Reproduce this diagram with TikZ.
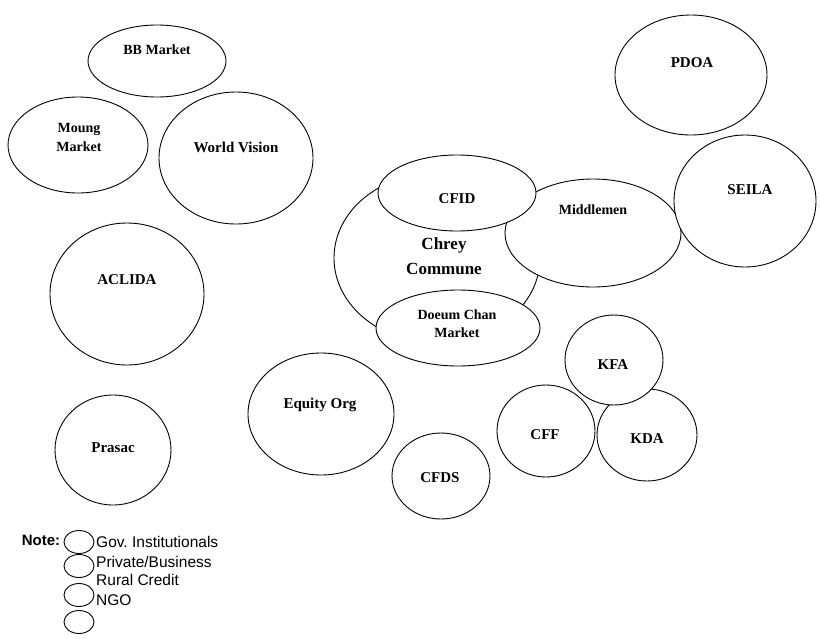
\documentclass[tikz,border=0pt]{standalone}
\usepackage{fontspec}
\setmainfont{Liberation Serif}
\setsansfont{Liberation Sans}
\usepackage{tikz}
\usetikzlibrary{shapes.geometric}

\tikzset{
  actor/.style={draw, ellipse, fill=white, line width=0.9pt, inner sep=0pt},
  actortext/.style={font=\bfseries\fontsize{15}{18}\selectfont, align=center, inner sep=0pt},
  notetext/.style={font=\sffamily\fontsize{15.5}{17}\selectfont, anchor=west, inner sep=0pt}
}

\begin{document}
\begin{tikzpicture}[x=1pt, y=-1pt]
        \useasboundingbox (0,0) rectangle (820,638);
        % Left column
        \node[actor, minimum width=138, minimum height=72] (bb) at (157,61) {};
        \node[actortext, font=\bfseries\fontsize{14}{17}\selectfont] (bb-t) at (157,50) {BB Market};
        \node[actor, minimum width=140, minimum height=96] (moung) at (78,145) {};
        \node[actortext, font=\bfseries\fontsize{14}{19}\selectfont] (moung-t) at (79,137) {Moung\\Market};
        \node[actor, minimum width=154, minimum height=132] (wv) at (236,158) {};
        \node[actortext] (wv-t) at (236,147) {World Vision};
        \node[actor, minimum width=154, minimum height=142] (aclida) at (127,294) {};
        \node[actortext] (aclida-t) at (127,280) {ACLIDA};
        \node[actor, minimum width=116, minimum height=110] (prasac) at (113,450) {};
        \node[actortext] (prasac-t) at (113,448) {Prasac};
        % Chrey Commune and what sits on it
        \node[actor, minimum width=206, minimum height=170] (chrey) at (437,258) {};
        \node[actortext, font=\bfseries\fontsize{17}{25}\selectfont] (chrey-t) at (444,256) {Chrey\\Commune};
        \node[actor, minimum width=176, minimum height=108] (middle) at (593,233) {};
        \node[actortext, font=\bfseries\fontsize{14}{17}\selectfont] (middle-t) at (593,210) {Middlemen};
        \node[actor, minimum width=158, minimum height=76] (cfid) at (457,193) {};
        \node[actortext] (cfid-t) at (457,199) {CFID};
        \node[actor, minimum width=164, minimum height=76] (doeum) at (458,328) {};
        \node[actortext, font=\bfseries\fontsize{14}{18}\selectfont] (doeum-t) at (457,324) {Doeum Chan\\Market};
        % Right side
        \node[actor, minimum width=152, minimum height=120] (pdoa) at (691,75) {};
        \node[actortext] (pdoa-t) at (692,63) {PDOA};
        \node[actor, minimum width=142, minimum height=132] (seila) at (745,201) {};
        \node[actortext] (seila-t) at (750,190) {SEILA};
        \node[actor, minimum width=146, minimum height=122] (equity) at (321,414) {};
        \node[actortext] (equity-t) at (320,405) {Equity Org};
        \node[actor, minimum width=98, minimum height=86] (cfds) at (441,476) {};
        \node[actortext] (cfds-t) at (440,478) {CFDS};
        \node[actor, minimum width=98, minimum height=92] (cff) at (546,431) {};
        \node[actortext] (cff-t) at (545,435) {CFF};
        \node[actor, minimum width=100, minimum height=92] (kda) at (647,435) {};
        \node[actortext] (kda-t) at (647,439) {KDA};
        \node[actor, minimum width=98, minimum height=90] (kfa) at (614,360) {};
        \node[actortext] (kfa-t) at (613,365) {KFA};
        % Note
        \node[font=\sffamily\bfseries\fontsize{15}{17}\selectfont, inner sep=0pt] (note) at (41,540) {Note:};
        \foreach \y [count=\i] in {542,566,595,622}
          \node[actor, minimum width=30, minimum height=23] (key\i) at (79,\y) {};
        \node[notetext] (gov) at (96,542) {Gov.\ Institutionals};
        \node[notetext] (priv) at (96,562) {Private/Business};
        \node[notetext] (rural) at (96,580) {Rural Credit};
        \node[notetext] (ngo) at (96,600) {NGO};
      \end{tikzpicture}
\end{document}
